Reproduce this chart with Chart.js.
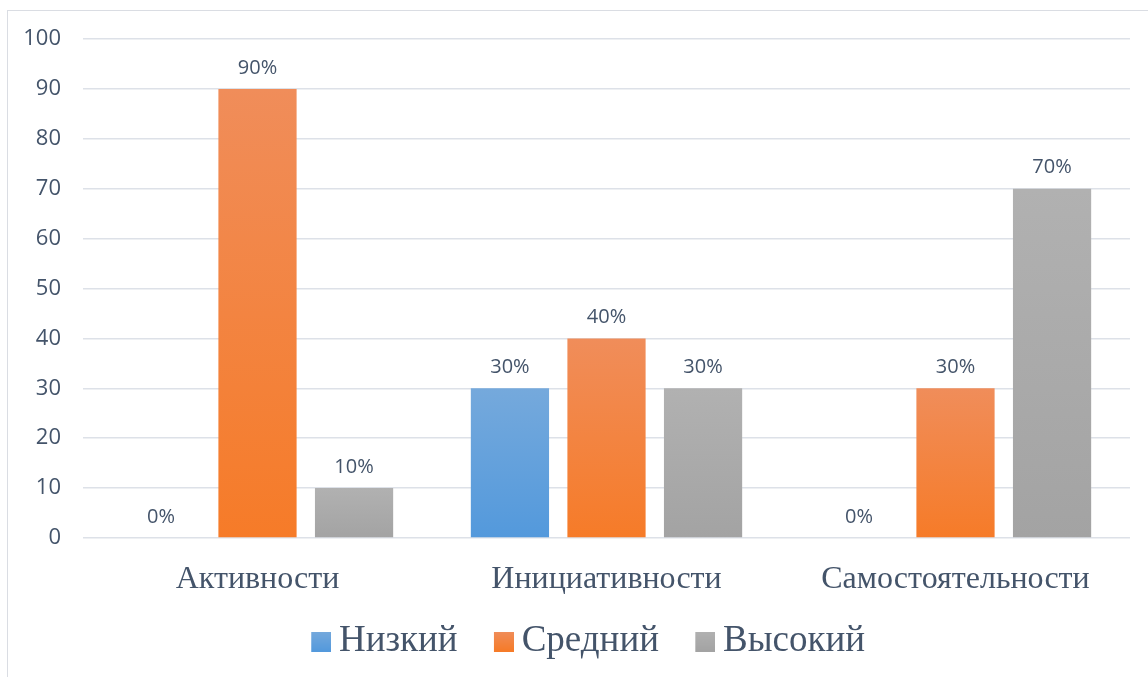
<!DOCTYPE html>
<html>
<head>
<meta charset="utf-8">
<script src="https://cdn.jsdelivr.net/npm/chart.js@4"></script>
<style>
  html, body { margin: 0; padding: 0; background: #fff; }
  #wrap { position: relative; width: 1148px; height: 677px; overflow: hidden; }
  #frame { position: absolute; left: 7px; top: 10px; width: 1200px; height: 700px;
           border-left: 1.5px solid #dadde3; border-top: 1.5px solid #dadde3; }
  canvas { position: absolute; left: 0; top: 0; }
</style>
</head>
<body>
<div id="wrap">
  <div id="frame"></div>
  <canvas id="levelsChart" width="1148" height="677"></canvas>
</div>
<script>
  // categories and values (percent)
  const categories = ['Активности', 'Инициативности', 'Самостоятельности'];
  const lowValues = [0, 30, 0];
  const midValues = [90, 40, 30];
  const highValues = [10, 30, 70];
  const seriesNames = ['Низкий', 'Средний', 'Высокий'];
  const yTicks = [0, 10, 20, 30, 40, 50, 60, 70, 80, 90, 100];

  const textColor = '#44546a';
  const gridColor = '#dde1e8';

  // top colour / bottom colour for each bar gradient
  const fills = [
    ['#75a9dc', '#5399dc'],
    ['#f08d5a', '#f67b28'],
    ['#b1b1b1', '#a3a3a3']
  ];

  function barFill(idx) {
    return (ctx) => {
      const chart = ctx.chart;
      if (!chart.chartArea || ctx.type !== 'data') return fills[idx][1];
      const y = chart.scales.y;
      const top = y.getPixelForValue(ctx.raw);
      const base = y.getPixelForValue(0);
      if (base - top < 1) return fills[idx][1];
      const g = chart.ctx.createLinearGradient(0, top, 0, base);
      g.addColorStop(0, fills[idx][0]);
      g.addColorStop(1, fills[idx][1]);
      return g;
    };
  }

  // legend marker: gradient square on the right of a wider transparent strip,
  // so the square sits close to its text like in the original
  const markerBox = 29.5;
  function swatch(idx) {
    const cv = document.createElement('canvas');
    cv.width = 51;
    cv.height = 20;
    const c = cv.getContext('2d');
    const g = c.createLinearGradient(0, 0, 0, 20);
    g.addColorStop(0, fills[idx][0]);
    g.addColorStop(1, fills[idx][1]);
    c.fillStyle = g;
    c.fillRect(31, 0, 20, 20);
    return cv;
  }

  const valueLabels = {
    id: 'valueLabels',
    afterDatasetsDraw(chart) {
      const c = chart.ctx;
      c.save();
      c.font = '20px "Open Sans", sans-serif';
      c.fillStyle = textColor;
      c.textAlign = 'center';
      c.textBaseline = 'bottom';
      chart.data.datasets.forEach((ds, i) => {
        chart.getDatasetMeta(i).data.forEach((bar, j) => {
          c.fillText(ds.data[j] + '%', bar.x, bar.y - 11);
        });
      });
      c.restore();
    }
  };

  // legend sits a bit right of the canvas centre in the original
  const legendShift = {
    id: 'legendShift',
    afterLayout(chart) {
      chart.legend.left += 13;
      chart.legend.right += 13;
    }
  };

  new Chart(document.getElementById('levelsChart'), {
    type: 'bar',
    data: {
      labels: categories,
      datasets: [
        { label: seriesNames[0], data: lowValues, backgroundColor: barFill(0) },
        { label: seriesNames[1], data: midValues, backgroundColor: barFill(1) },
        { label: seriesNames[2], data: highValues, backgroundColor: barFill(2) }
      ]
    },
    options: {
      responsive: false,
      animation: false,
      categoryPercentage: 0.83,
      barPercentage: 0.81,
      layout: { padding: { top: 39, right: 18, left: 0, bottom: 7 } },
      plugins: {
        tooltip: { enabled: false },
        legend: {
          position: 'bottom',
          labels: {
            font: { family: '"Liberation Serif", "Times New Roman", serif', size: 37 },
            color: textColor,
            usePointStyle: true,
            pointStyleWidth: markerBox,
            boxHeight: 20,
            padding: 16,
            generateLabels: (chart) => chart.data.datasets.map((ds, i) => ({
              text: ds.label,
              pointStyle: swatch(i),
              fillStyle: fills[i][1],
              strokeStyle: fills[i][1],
              lineWidth: 0,
              fontColor: textColor,
              datasetIndex: i
            }))
          }
        }
      },
      scales: {
        x: {
          grid: { display: false, drawTicks: false },
          border: { display: false },
          ticks: {
            color: textColor,
            padding: 22,
            font: { family: '"Liberation Serif", "Times New Roman", serif', size: 32 }
          },
          afterFit: (s) => { s.height = 69; }
        },
        y: {
          min: 0,
          max: 100,
          afterBuildTicks: (s) => { s.ticks = yTicks.map(v => ({ value: v })); },
          grid: { color: gridColor, lineWidth: 1.5, drawTicks: false },
          border: { display: false },
          ticks: {
            color: textColor,
            padding: 22,
            font: { family: '"Open Sans", sans-serif', size: 22 }
          },
          afterFit: (s) => { s.width = 83; }
        }
      }
    },
    plugins: [valueLabels, legendShift]
  });
</script>
</body>
</html>
